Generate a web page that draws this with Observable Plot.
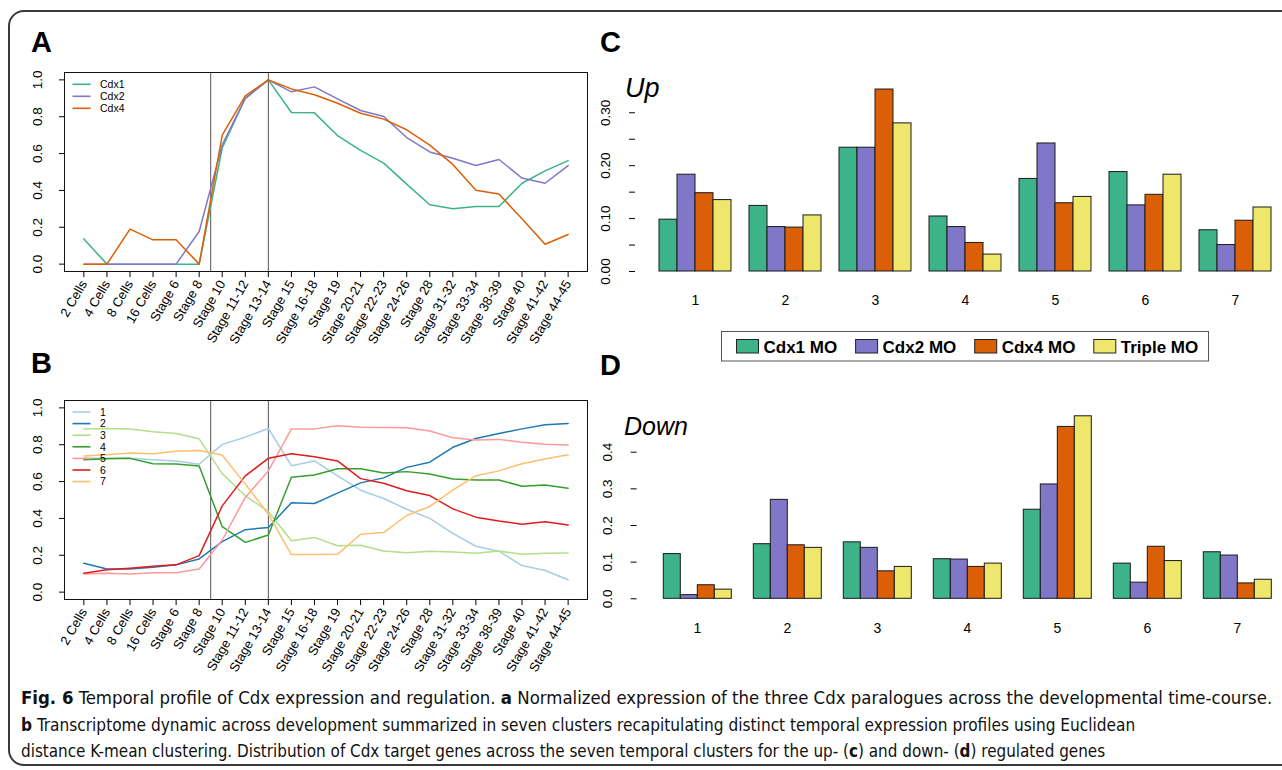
<!DOCTYPE html>
<html>
<head>
<meta charset="utf-8">
<script src="https://cdn.jsdelivr.net/npm/d3@7"></script>
<script src="https://cdn.jsdelivr.net/npm/@observablehq/plot@0.6"></script>
<style>
html, body { margin: 0; padding: 0; background: #fff; overflow: hidden; }
#page { position: relative; width: 1282px; height: 770px; overflow: hidden; font-family: "Liberation Sans", Arial, Helvetica, sans-serif; }
#border { position: absolute; left: 8px; top: 10px; width: 1320px; height: 756px; border: 2px solid #3a3a3a; border-radius: 16px; box-sizing: border-box; }
.panel { position: absolute; }
.panel svg { display: block; max-width: none; }
#overlay { position: absolute; left: 0; top: 0; pointer-events: none; }
</style>
</head>
<body>
<div id="page">
  <div id="border"></div>
  <div class="panel" id="panelA" style="left:0;top:0"></div>
  <div class="panel" id="panelB" style="left:0;top:328px"></div>
  <div class="panel" id="panelC" style="left:600px;top:60px"></div>
  <div class="panel" id="panelD" style="left:600px;top:380px"></div>
  <svg id="overlay" width="1282" height="770" font-family="'Liberation Sans', Arial, Helvetica, sans-serif">
    <text x="31" y="51.5" font-weight="bold" font-size="29">A</text>
    <text x="31" y="372.5" font-weight="bold" font-size="29">B</text>
    <text x="600" y="52" font-weight="bold" font-size="29">C</text>
    <text x="600" y="375" font-weight="bold" font-size="29">D</text>
    <text x="625" y="96.5" font-style="italic" font-size="27">Up</text>
    <text x="624" y="435" font-style="italic" font-size="25">Down</text>
  </svg>
</div>
<script>
const FONT = "Liberation Sans, Arial, Helvetica, sans-serif";

// ---------- Panel A / B : time course ----------
const stages = ["2 Cells","4 Cells","8 Cells","16 Cells","Stage 6","Stage 8","Stage 10","Stage 11-12","Stage 13-14","Stage 15","Stage 16-18","Stage 19","Stage 20-21","Stage 22-23","Stage 24-26","Stage 28","Stage 31-32","Stage 33-34","Stage 38-39","Stage 40","Stage 41-42","Stage 44-45"];
const stageBreaks = [5.5, 8];
const yTicksAB = [0, 0.2, 0.4, 0.6, 0.8, 1.0];

const genes = ["Cdx1", "Cdx2", "Cdx4"];
const geneColors = ["#3CB389", "#8077C8", "#DB5F06"];
const cdx1 = [0.137,0,0,0,0,0,0.63,0.90,1.0,0.823,0.821,0.698,0.617,0.548,0.434,0.322,0.300,0.313,0.313,0.439,0.506,0.562];
const cdx2 = [0,0,0,0,0,0.177,0.647,0.90,1.0,0.935,0.962,0.897,0.834,0.801,0.687,0.609,0.575,0.535,0.568,0.467,0.439,0.535];
const cdx4 = [0,0,0.19,0.132,0.132,0,0.70,0.913,1.0,0.951,0.919,0.873,0.819,0.787,0.729,0.646,0.541,0.401,0.380,0.246,0.108,0.161];

const clusterNames = ["1","2","3","4","5","6","7"];
const clusterColors = ["#A6CEE3","#1F78B4","#B2DF8A","#33A02C","#FB9A99","#E31A1C","#FDBF6F"];
const cluster1 = [0.726,0.726,0.726,0.719,0.712,0.694,0.802,0.841,0.888,0.686,0.712,0.631,0.553,0.508,0.450,0.400,0.319,0.249,0.222,0.144,0.117,0.067];
const cluster2 = [0.157,0.126,0.126,0.135,0.148,0.180,0.274,0.339,0.351,0.485,0.481,0.537,0.593,0.620,0.677,0.705,0.786,0.834,0.861,0.886,0.908,0.915];
const cluster3 = [0.886,0.888,0.885,0.870,0.861,0.832,0.643,0.523,0.438,0.279,0.297,0.252,0.254,0.223,0.214,0.222,0.218,0.211,0.223,0.205,0.211,0.213];
const cluster4 = [0.719,0.724,0.726,0.697,0.695,0.685,0.355,0.270,0.310,0.623,0.636,0.670,0.670,0.647,0.654,0.641,0.614,0.609,0.609,0.575,0.582,0.564];
const cluster5 = [0.099,0.103,0.099,0.105,0.105,0.126,0.283,0.514,0.658,0.886,0.886,0.903,0.895,0.894,0.892,0.874,0.838,0.825,0.829,0.813,0.802,0.798];
const cluster6 = [0.103,0.121,0.130,0.141,0.148,0.198,0.468,0.631,0.726,0.751,0.735,0.712,0.616,0.591,0.550,0.524,0.452,0.407,0.386,0.369,0.382,0.364];
const cluster7 = [0.739,0.746,0.755,0.751,0.764,0.769,0.744,0.586,0.423,0.204,0.204,0.205,0.314,0.323,0.416,0.465,0.553,0.632,0.658,0.697,0.723,0.746];

// ---------- Panel C / D : bar charts ----------
const barClusters = [1,2,3,4,5,6,7];
const moGroups = ["Cdx1 MO","Cdx2 MO","Cdx4 MO","Triple MO"];
const moColors = ["#3CB389","#8077C8","#DB5F06","#EEE76C"];
const upCdx1MO   = [0.098,0.124,0.234,0.104,0.175,0.188,0.078];
const upCdx2MO   = [0.183,0.084,0.234,0.084,0.242,0.125,0.050];
const upCdx4MO   = [0.148,0.083,0.344,0.054,0.129,0.145,0.096];
const upTripleMO = [0.135,0.106,0.280,0.032,0.141,0.183,0.121];
const downCdx1MO   = [0.122,0.149,0.154,0.108,0.243,0.096,0.127];
const downCdx2MO   = [0.010,0.270,0.139,0.107,0.312,0.044,0.118];
const downCdx4MO   = [0.037,0.146,0.075,0.087,0.469,0.142,0.042];
const downTripleMO = [0.025,0.139,0.087,0.096,0.498,0.103,0.052];
const upTicks = [0,0.05,0.10,0.15,0.20,0.25,0.30];
const upTickLabels = ["0.00","","0.10","","0.20","","0.30"];
const downTicks = [0,0.1,0.2,0.3,0.4];
const downTickLabels = ["0.0","0.1","0.2","0.3","0.4"];

const captionLines = [
  [["Fig. 6", true], [" Temporal profile of Cdx expression and regulation. ", false], ["a", true], [" Normalized expression of the three Cdx paralogues across the developmental time-course.", false]],
  [["b", true], [" Transcriptome dynamic across development summarized in seven clusters recapitulating distinct temporal expression profiles using Euclidean", false]],
  [["distance K-mean clustering. Distribution of Cdx target genes across the seven temporal clusters for the up- (", false], ["c", true], [") and down- (", false], ["d", true], [") regulated genes", false]]
];
const captionWidths = [1252, 1115, 1085];

const baseStyle = {fontFamily: FONT, fontSize: "13px", color: "#000", background: "transparent", maxWidth: "none", overflow: "visible"};

function linePanel(names, colors, seriesList) {
  const data = seriesList.flatMap((vals, k) => vals.map((v, i) => ({i, value: v, series: names[k]})));
  return Plot.plot({
    width: 600, height: 360,
    marginLeft: 64, marginRight: 13, marginTop: 72, marginBottom: 89,
    style: baseStyle,
    x: {domain: [-0.84, stages.length - 1 + 0.84], label: null},
    y: {domain: [-0.04, 1.04], label: null},
    color: {domain: names, range: colors},
    marks: [
      Plot.ruleX(stageBreaks, {stroke: "#555", strokeWidth: 1}),
      Plot.lineY(data, {x: "i", y: "value", z: "series", stroke: "series", strokeWidth: 1.5}),
      Plot.frame({stroke: "#111"}),
      Plot.axisX({ticks: d3.range(stages.length), tickFormat: i => stages[i], tickRotate: -60, tickSize: 6, tickPadding: 4, fontSize: 13, fontFamily: FONT, label: null}),
      Plot.axisY({ticks: yTicksAB, tickFormat: d3.format(".1f"), tickRotate: -90, tickSize: 5, tickPadding: 18, fontSize: 13.5, fontFamily: FONT, label: null})
    ]
  });
}

function barPanel(seriesList, ticks, tickLabels, yMax, o) {
  const data = barClusters.flatMap((c, i) => moGroups.map((g, k) => ({cluster: c, group: g, value: seriesList[k][i]})));
  return Plot.plot({
    width: 682, height: 260,
    marginLeft: o.ml, marginRight: o.mr, marginTop: o.mt, marginBottom: o.mb,
    style: baseStyle,
    fx: {domain: barClusters, paddingInner: 0.2, paddingOuter: 0, label: null},
    x: {domain: moGroups, padding: 0, axis: null},
    y: {domain: [0, yMax], label: null},
    color: {domain: moGroups, range: moColors},
    marks: [
      Plot.barY(data, {fx: "cluster", x: "group", y: "value", fill: "group", stroke: "#1a1a1a", strokeWidth: 1}),
      Plot.axisY({ticks, tickFormat: d => tickLabels[ticks.indexOf(d)], tickRotate: -90, tickSize: 6, tickPadding: 19.5, dx: o.dx, line: true, fontSize: 13.5, fontFamily: FONT, label: null}),
      Plot.axisFx({anchor: "bottom", tickSize: 0, tickPadding: 24, fontSize: 14, fontFamily: FONT, label: null})
    ]
  });
}

document.getElementById("panelA").append(linePanel(genes, geneColors, [cdx1, cdx2, cdx4]));
document.getElementById("panelB").append(linePanel(clusterNames, clusterColors, [cluster1, cluster2, cluster3, cluster4, cluster5, cluster6, cluster7]));
document.getElementById("panelC").append(barPanel([upCdx1MO, upCdx2MO, upCdx4MO, upTripleMO], upTicks, upTickLabels, 0.30, {ml: 57, mr: 9, mt: 52.3, mb: 49, dx: -24}));
document.getElementById("panelD").append(barPanel([downCdx1MO, downCdx2MO, downCdx4MO, downTripleMO], downTicks, downTickLabels, 0.40, {ml: 58.7, mr: 7.6, mt: 71.7, mb: 41.7, dx: -24.4}));

// ---------- overlay: legends and caption ----------
const ov = d3.select("#overlay");
function lineLegend(names, colors, y0, dy) {
  names.forEach((n, k) => {
    const y = y0 + k * dy;
    ov.append("line").attr("x1", 72.5).attr("x2", 90.5).attr("y1", y).attr("y2", y)
      .attr("stroke", colors[k]).attr("stroke-width", 1.6);
    ov.append("text").attr("x", 100).attr("y", y + 3.7).attr("font-size", 10.5).text(n);
  });
}
lineLegend(genes, geneColors, 84.3, 12);
lineLegend(clusterNames, clusterColors, 412, 11.6);

ov.append("rect").attr("x", 721.5).attr("y", 331.5).attr("width", 487).attr("height", 29.5)
  .attr("fill", "none").attr("stroke", "#555").attr("stroke-width", 1);
moGroups.forEach((g, k) => {
  const x = 736 + k * 119.1;
  ov.append("rect").attr("x", x + 0.5).attr("y", 339.5).attr("width", 22).attr("height", 13.5)
    .attr("fill", moColors[k]).attr("stroke", "#222").attr("stroke-width", 1);
  ov.append("text").attr("x", x + 27.5).attr("y", 353.3).attr("font-size", 17).attr("font-weight", "bold").text(g);
});

// caption: each line is one text, squeezed horizontally to the reference's line width
const cap = ov.append("g").attr("font-family", "'Liberation Sans Narrow', 'DejaVu Sans Condensed', 'Liberation Sans', sans-serif")
  .attr("font-size", 17.5).attr("fill", "#111");
const capY = [704, 731, 757.5];
captionLines.forEach((parts, li) => {
  const g = cap.append("g");
  const t = g.append("text").attr("x", 0).attr("y", capY[li]);
  parts.forEach(([s, b]) => t.append("tspan").attr("font-weight", b ? "bold" : "normal").text(s));
  const w = t.node().getComputedTextLength();
  g.attr("transform", `translate(21,0) scale(${captionWidths[li] / w},1)`);
});
</script>
</body>
</html>
